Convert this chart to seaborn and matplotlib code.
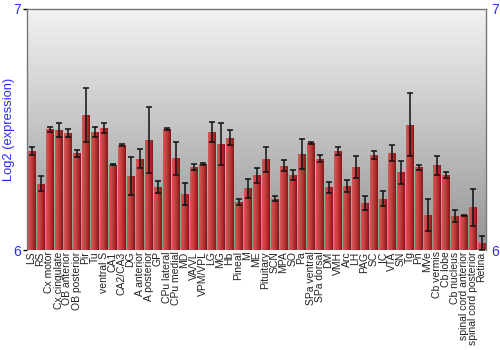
import numpy as np
import pandas as pd
import matplotlib
matplotlib.use("Agg")
import matplotlib.pyplot as plt
import seaborn as sns
from matplotlib.colors import to_rgb

regions = ["LS", "RS", "Cx motor", "Cx cingulate", "OB anterior", "OB posterior", "Pir", "Tu",
           "ventral S", "CA1", "CA2/CA3", "DG", "A anterior", "A posterior", "GP", "CPu lateral",
           "CPu medial", "MD", "VA/VL", "VPM/VPL", "LG", "MG", "Hb", "Pineal", "M", "ME",
           "Pituitary", "SCN", "MPA", "SO", "Pa", "SPa ventral", "SPa dorsal", "DM", "VMH", "Arc",
           "LH", "PAG", "SC", "IC", "VTA", "SN", "Tg", "Pn", "MVe", "Cb vermis", "Cb lobe",
           "Cb nucleus", "spinal cord anterior", "spinal cord posterior", "Retina"]

expression = [6.412, 6.275, 6.501, 6.498, 6.485, 6.402, 6.561, 6.490,
              6.505, 6.353, 6.436, 6.307, 6.379, 6.456, 6.261, 6.503,
              6.380, 6.231, 6.343, 6.357, 6.490, 6.440, 6.466, 6.199, 6.256, 6.310,
              6.376, 6.212, 6.350, 6.312, 6.398, 6.444, 6.379, 6.260, 6.411, 6.266,
              6.344, 6.194, 6.394, 6.212, 6.401, 6.322, 6.520, 6.344, 6.144, 6.351, 6.310,
              6.142, 6.144, 6.177, 6.029]

error = [0.017, 0.030, 0.011, 0.030, 0.017, 0.015, 0.111, 0.021,
         0.020, 0.002, 0.003, 0.078, 0.039, 0.138, 0.026, 0.004,
         0.067, 0.045, 0.012, 0.003, 0.042, 0.087, 0.030, 0.012, 0.039, 0.032,
         0.051, 0.010, 0.024, 0.021, 0.061, 0.003, 0.015, 0.022, 0.015, 0.024,
         0.044, 0.029, 0.016, 0.031, 0.033, 0.047, 0.131, 0.010, 0.067, 0.040, 0.012,
         0.024, 0.003, 0.076, 0.031]

yticks = [6, 7]
ylabel = "Log2 (expression)"

df = pd.DataFrame({"region": regions, "expr": expression, "err": error})

sns.set_style("white")
plt.rcParams["font.family"] = ["Liberation Sans", "DejaVu Sans"]

fig = plt.figure(figsize=(5, 3.5), dpi=100)
ax = fig.add_axes([27 / 500, 1 - 250 / 350, (486 - 27) / 500, (250 - 9) / 350])

sns.barplot(data=df, x="region", y="expr", color="#c03838", width=0.88,
            errorbar=None, ax=ax, zorder=2, linewidth=0)

n = len(regions)
ax.set_xlim(-0.5, n - 0.5)
ax.set_ylim(6, 7)

# background gradient: light at top, darker towards bottom
bg = np.linspace(0.95, 0.58, 256)[:, None, None] * np.ones((256, 2, 3))
ax.imshow(bg, extent=[-0.5, n - 0.5, 6, 7], aspect="auto", zorder=0,
          interpolation="bilinear")

# bar gradients
c_left = np.array(to_rgb("#d25a5a"))
c_mid = np.array(to_rgb("#c03a3a"))
c_right = np.array(to_rgb("#841818"))
t = np.linspace(0, 1, 32)
grad = np.array([c_left + (c_mid - c_left) * (x / 0.5) if x < 0.5
                 else c_mid + (c_right - c_mid) * ((x - 0.5) / 0.5) for x in t])
grad = grad[None, :, :]
for p in ax.patches:
    x0 = p.get_x()
    w = p.get_width()
    h = p.get_y() + p.get_height()
    im = ax.imshow(grad, extent=[x0, x0 + w, 6, h], aspect="auto", zorder=2.5,
                   interpolation="bilinear")
    im.set_clip_path(p)

ax.errorbar(np.arange(n), df["expr"], yerr=df["err"], fmt="none",
            ecolor="#111111", elinewidth=1.1, capsize=2.2, capthick=1.1, zorder=3)

ax.set_xlim(-0.5, n - 0.5)
ax.set_ylim(6, 7)

ax.set_yticks(yticks)
ax.set_yticklabels([str(v) for v in yticks])
ax.tick_params(axis="y", colors="black", labelcolor="#2a2aff", labelsize=10,
               length=3, width=1, left=True, right=False, labelright=True, pad=1)
ax.tick_params(axis="x", length=0, labelsize=7.5, labelcolor="#222222", pad=1)
plt.setp(ax.get_xticklabels(), rotation=90)
ax.set_xlabel("")
ax.set_ylabel(ylabel, color="#2a2aff", fontsize=9.3)
ax.yaxis.set_label_coords(-0.027, 0.5)

for s in ["left", "right", "top", "bottom"]:
    ax.spines[s].set_color("#777777")
    ax.spines[s].set_linewidth(1)
ax.spines["bottom"].set_visible(False)

fig.savefig("out.png", dpi=100)
